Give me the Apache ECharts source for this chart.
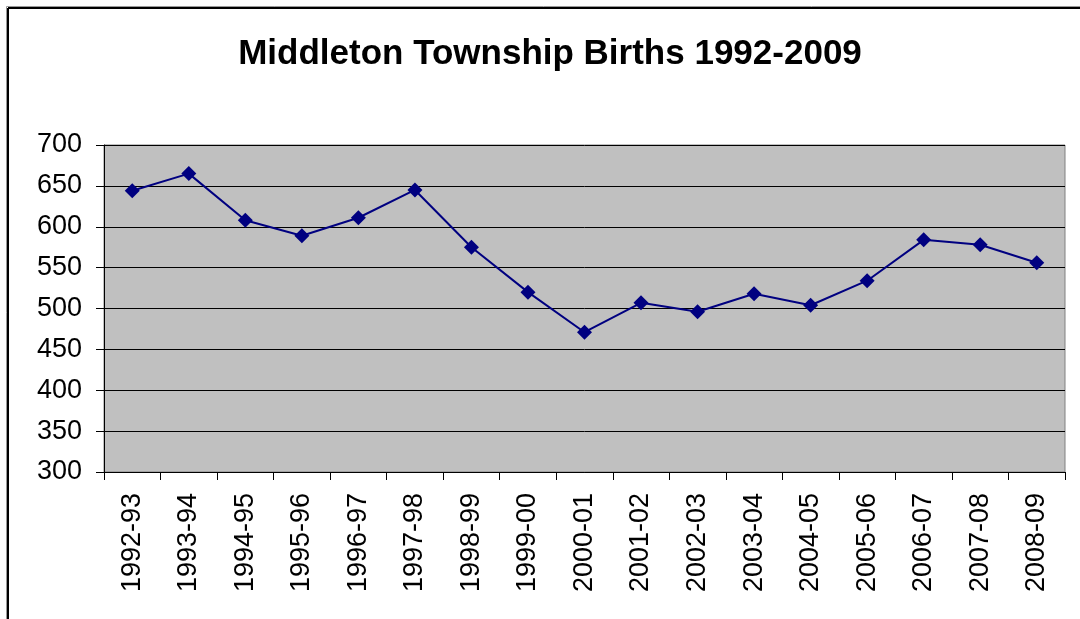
<!DOCTYPE html>
<html>
<head>
<meta charset="utf-8">
<script src="https://cdn.jsdelivr.net/npm/echarts@6/dist/echarts.min.js"></script>
<style>
html,body{margin:0;padding:0;background:#fff;}
#chart{width:1080px;height:619px;}
</style>
</head>
<body>
<div id="chart"></div>
<script>
const categories = ['1992-93','1993-94','1994-95','1995-96','1996-97','1997-98','1998-99','1999-00','2000-01','2001-02','2002-03','2003-04','2004-05','2005-06','2006-07','2007-08','2008-09'];
const births = [644, 665, 608, 589, 611, 645, 575, 520, 471, 507, 496, 518, 504, 534, 584, 578, 556];
const yTicks = [300, 350, 400, 450, 500, 550, 600, 650, 700];
const titleText = 'Middleton Township Births 1992-2009';

const chart = echarts.init(document.getElementById('chart'));
const font = '"Liberation Sans", Arial, sans-serif';
chart.setOption({
  animation: false,
  backgroundColor: '#ffffff',
  title: {
    text: titleText,
    left: 545,
    top: 32,
    textAlign: 'center',
    textStyle: { fontFamily: font, fontSize: 35, fontWeight: 'bold', color: '#000' }
  },
  graphic: [
    { type: 'line', shape: { x1: 8, y1: 8, x2: 1080, y2: 8 }, style: { stroke: '#000', lineWidth: 2 } },
    { type: 'line', shape: { x1: 8, y1: 8, x2: 8, y2: 619 }, style: { stroke: '#000', lineWidth: 2 } },
    { type: 'line', shape: { x1: 6.5, y1: 6.5, x2: 1080, y2: 6.5 }, style: { stroke: '#999', lineWidth: 1 } },
    { type: 'line', shape: { x1: 6.5, y1: 6.5, x2: 6.5, y2: 619 }, style: { stroke: '#999', lineWidth: 1 } }
  ],
  grid: {
    left: 104, right: 15, top: 145, bottom: 147,
    show: true, backgroundColor: '#C0C0C0', borderColor: '#808080', borderWidth: 1
  },
  xAxis: {
    type: 'category',
    data: categories,
    boundaryGap: true,
    axisLine: { lineStyle: { color: '#000', width: 1 } },
    axisTick: { show: true, length: 8, lineStyle: { color: '#000' } },
    axisLabel: { rotate: 90, margin: 21, fontFamily: font, fontSize: 27, color: '#000' },
    splitLine: { show: false }
  },
  yAxis: {
    type: 'value',
    min: yTicks[0],
    max: yTicks[yTicks.length - 1],
    interval: 50,
    axisLine: { show: true, lineStyle: { color: '#000', width: 1 } },
    axisTick: { show: true, length: 8, lineStyle: { color: '#000' } },
    axisLabel: { margin: 22, fontFamily: font, fontSize: 27, color: '#000' },
    splitLine: { show: true, lineStyle: { color: '#000', width: 1 } }
  },
  series: [{
    type: 'line',
    data: births,
    symbol: 'diamond',
    symbolSize: 15,
    lineStyle: { color: '#000080', width: 2 },
    itemStyle: { color: '#000080' }
  }]
});
</script>
</body>
</html>
